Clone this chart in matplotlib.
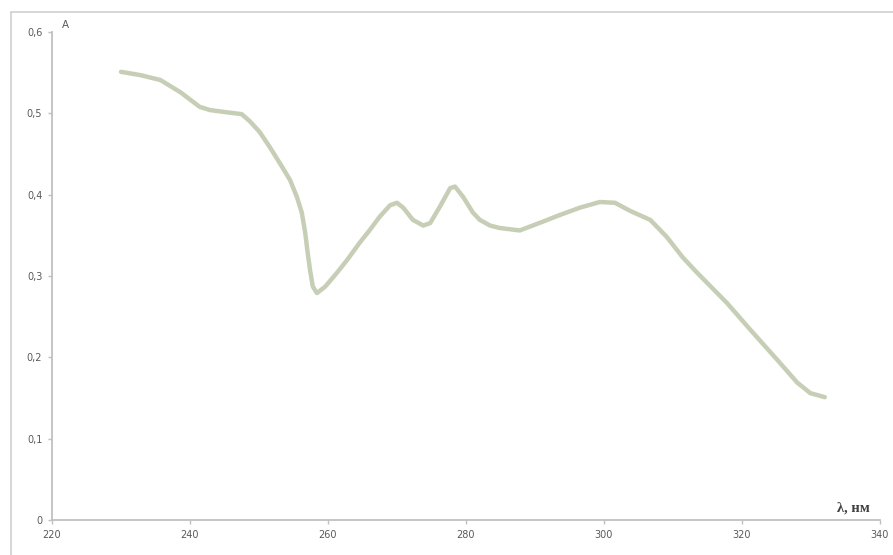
import matplotlib

matplotlib.use("Agg")
from matplotlib import pyplot as plt
from matplotlib.patches import Rectangle
from matplotlib.ticker import FuncFormatter, MultipleLocator

# absorption spectrum, wavelength in nm vs absorbance
wavelength = [
    230.0, 232.8, 235.7, 238.6, 241.4, 242.9, 245.6, 247.5, 248.7, 250.1,
    251.6, 253.0, 254.5, 255.5, 256.2, 256.7, 257.0, 257.4, 257.8, 258.4,
    259.6, 261.3, 262.8, 264.6, 266.1, 267.5, 269.0, 270.0, 270.9, 272.3,
    273.8, 274.8, 276.2, 277.7, 278.4, 279.6, 281.0, 282.0, 283.5, 284.9,
    287.8, 291.2, 293.6, 296.5, 299.4, 301.6, 303.8, 306.7, 309.1, 311.4,
    313.5, 317.8, 321.2, 325.1, 328.0, 329.9, 332.0,
]
absorbance = [
    0.551, 0.547, 0.541, 0.526, 0.508, 0.504, 0.501, 0.499, 0.490, 0.477,
    0.458, 0.439, 0.418, 0.397, 0.378, 0.353, 0.332, 0.307, 0.287, 0.279,
    0.287, 0.304, 0.320, 0.341, 0.357, 0.373, 0.387, 0.390, 0.384, 0.369,
    0.362, 0.365, 0.385, 0.408, 0.410, 0.397, 0.378, 0.369, 0.362, 0.359,
    0.356, 0.367, 0.375, 0.384, 0.391, 0.390, 0.380, 0.369, 0.348, 0.323,
    0.304, 0.267, 0.234, 0.197, 0.169, 0.156, 0.151,
]

grey = "#c0c0c0"
label_color = "#595959"

fig = plt.figure(figsize=(8.93, 5.55), dpi=100)
fig.patch.set_facecolor("white")
fig.patches.append(Rectangle((11 / 893, -0.01), 1.0, 1 - 12 / 555 + 0.01,
                             transform=fig.transFigure, fill=False,
                             edgecolor="#d0d0d0", linewidth=1.2))

ax = fig.add_axes([52 / 893, 35 / 555, 828 / 893, 488 / 555])
ax.plot(wavelength, absorbance, color="#c6cfb6", linewidth=3.2,
        solid_joinstyle="round", solid_capstyle="round")

ax.set_xlim(220, 340)
ax.set_ylim(0, 0.6)
ax.xaxis.set_major_locator(MultipleLocator(20))
ax.yaxis.set_major_locator(MultipleLocator(0.1))
ax.yaxis.set_major_formatter(FuncFormatter(
    lambda v, _: "0" if abs(v) < 1e-9 else f"{v:.1f}".replace(".", ",")))

for side in ("top", "right"):
    ax.spines[side].set_visible(False)
for side in ("left", "bottom"):
    ax.spines[side].set_color(grey)
    ax.spines[side].set_linewidth(1.3)
ax.tick_params(axis="both", direction="out", length=3, width=1, color=grey,
               labelsize=7, labelcolor=label_color)
ax.tick_params(axis="x", pad=4)
ax.tick_params(axis="y", pad=4)

ax.text(0.012, 1.005, "A", transform=ax.transAxes, fontsize=7.5,
        color=label_color, ha="left", va="bottom")
ax.text(0.948, 0.017, "λ, нм", transform=ax.transAxes, fontsize=10.5,
        family="Liberation Serif", fontweight="bold", color="#404040",
        ha="left", va="baseline")

fig.savefig("out.png", dpi=100, facecolor="white")
